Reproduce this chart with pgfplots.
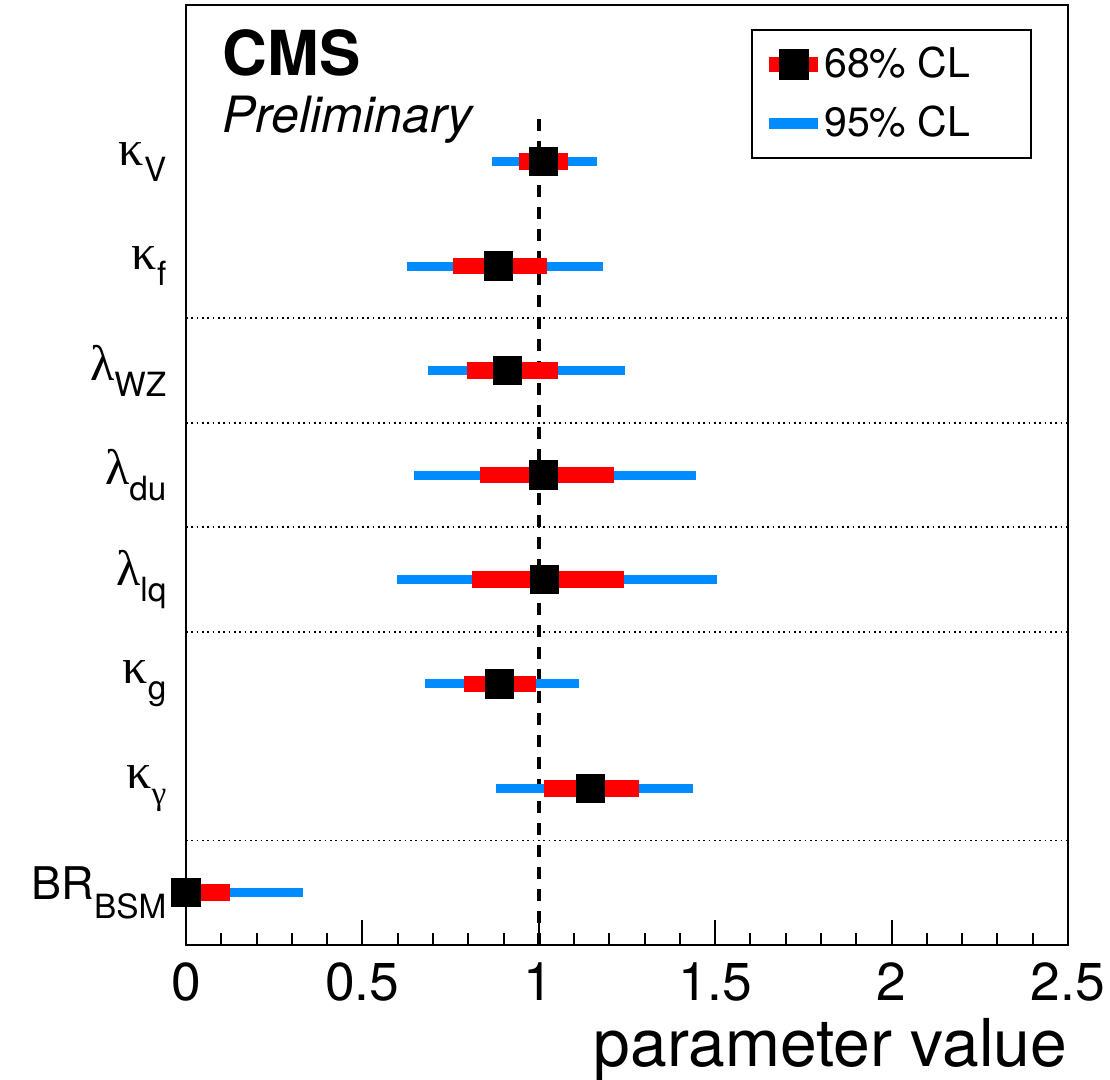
\documentclass[border=0pt]{standalone}
\usepackage{pgfplots}
\pgfplotsset{compat=1.18}
\usepackage{pgfplotstable}
\usepackage{fontspec}
\setmainfont{TeX Gyre Heros}
\newfontfamily\greek{Liberation Serif}
\definecolor{cmsred}{RGB}{255,0,0}
\definecolor{cmsblue}{RGB}{0,140,255}
\newcommand{\lab}[2]{{\greek #1}\raisebox{-4.8pt}{\fontsize{10}{12}\selectfont #2}}
\pgfplotstableread{
y   val   lo68  hi68  lo95  hi95
7.5 1.013 0.945 1.082 0.866 1.164
6.5 0.886 0.756 1.024 0.626 1.181
5.5 0.912 0.797 1.055 0.685 1.244
4.5 1.014 0.832 1.213 0.646 1.447
3.5 1.017 0.811 1.241 0.597 1.506
2.5 0.888 0.787 0.993 0.677 1.115
1.5 1.146 1.016 1.283 0.878 1.437
0.5 0.000 0.000 0.125 0.000 0.331
}\cltable
\begin{document}
\begin{tikzpicture}
\useasboundingbox (-55.8pt,-40.5pt) rectangle (277.2pt,283.5pt);
\begin{axis}[
  at={(0,0)}, anchor=south west,
  scale only axis, width=264.6pt, height=282pt,
  xmin=0, xmax=2.5, ymin=0, ymax=9,
  clip=false,
  axis line style={line width=0.7pt},
  xtick={0,0.5,1,1.5,2,2.5},
  xticklabels={0,0.5,1,1.5,2,2.5},
  minor x tick num=4,
  xtick pos=lower,
  tick align=inside,
  major tick length=7.5pt,
  minor tick length=3.6pt,
  every tick/.style={line width=0.6pt, black},
  ytick={0.5,1.5,...,7.5},
  yticklabels={
    {{\fontsize{13.5}{16}\selectfont BR}\raisebox{-5.7pt}{\fontsize{10}{12}\selectfont BSM}},
    {\lab{κ}{\greek γ}},
    {\lab{κ}{g}},
    {\lab{λ}{lq}},
    {\lab{λ}{du}},
    {\lab{λ}{WZ}},
    {\lab{κ}{f}},
    {\lab{κ}{V}}},
  ytick style={draw=none},
  ytick pos=left,
  yticklabel style={anchor=east, inner sep=0pt, xshift=-5.7pt, font=\fontsize{15}{18}\selectfont},
  xticklabel style={inner sep=0pt, yshift=-5pt, font=\fontsize{16}{19}\selectfont},
  /pgf/number format/assume math mode=true,
  xlabel={parameter value},
  xlabel style={at={(axis description cs:1,0)}, anchor=base east, yshift=-36.6pt, inner sep=0pt, font=\fontsize{19.8}{22}\selectfont},
  legend style={at={(0.959,0.9745)}, anchor=north east, draw=black, line width=0.5pt,
    font=\fontsize{12.3}{14}\selectfont, inner xsep=3pt, inner ysep=3pt, row sep=3pt},
  legend cell align=left,
]
% separators
\addplot[forget plot, black, line width=0.55pt, dash pattern=on 0.55pt off 1.05pt] coordinates {(0,1) (2.5,1)};
\addplot[forget plot, black, line width=0.55pt, dash pattern=on 0.55pt off 1.05pt] coordinates {(0,3) (2.5,3)};
\addplot[forget plot, black, line width=0.55pt, dash pattern=on 0.55pt off 1.05pt] coordinates {(0,4) (2.5,4)};
\addplot[forget plot, black, line width=0.55pt, dash pattern=on 0.55pt off 1.05pt] coordinates {(0,5) (2.5,5)};
\addplot[forget plot, black, line width=0.55pt, dash pattern=on 0.55pt off 1.05pt] coordinates {(0,6) (2.5,6)};
% SM line
\addplot[forget plot, black, line width=1.2pt, dash pattern=on 3.6pt off 3pt] coordinates {(1,0) (1,8)};
% 95% CL
\addplot[forget plot, only marks, mark=none,
  error bars/.cd, x dir=both, x explicit, error mark=none,
  error bar style={line width=2.7pt, cmsblue}]
  table[x=val, y=y, x error minus expr=\thisrow{val}-\thisrow{lo95}, x error plus expr=\thisrow{hi95}-\thisrow{val}] {\cltable};
% 68% CL
\addplot[forget plot, only marks, mark=none,
  error bars/.cd, x dir=both, x explicit, error mark=none,
  error bar style={line width=5pt, cmsred}]
  table[x=val, y=y, x error minus expr=\thisrow{val}-\thisrow{lo68}, x error plus expr=\thisrow{hi68}-\thisrow{val}] {\cltable};
% best fit
\addplot[forget plot, only marks, mark=square*, mark size=4.2pt, black] table[x=val, y=y] {\cltable};
\addlegendimage{legend image code/.code={
  \draw[cmsred, line width=4.5pt] (0pt,0pt) -- (14.7pt,0pt);
  \fill[black] (3pt,-4.35pt) rectangle (11.7pt,4.35pt);}}
\addlegendentry{\hspace*{-2.5pt}\makebox[57pt][l]{68\% CL}}
\addlegendimage{legend image code/.code={
  \draw[cmsblue, line width=3.3pt] (0pt,0pt) -- (14.7pt,0pt);}}
\addlegendentry{\hspace*{-2.5pt}\makebox[57pt][l]{95\% CL}}
\node[anchor=base west, inner sep=0pt, font=\fontsize{18.6}{22}\selectfont\bfseries] at (rel axis cs:0.0408,0.9255) {CMS};
\node[anchor=base west, inner sep=0pt, font=\fontsize{15}{18}\selectfont\itshape] at (rel axis cs:0.0408,0.8649) {Preliminary};
\end{axis}
\end{tikzpicture}
\end{document}
